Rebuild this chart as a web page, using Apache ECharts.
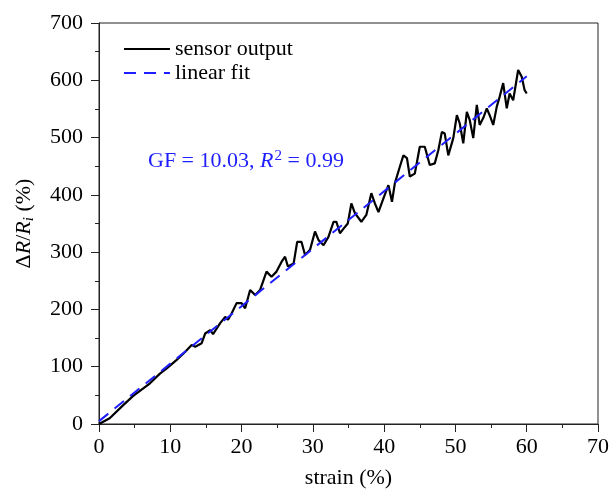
<!DOCTYPE html>
<html>
<head>
<meta charset="utf-8">
<script src="https://cdn.jsdelivr.net/npm/echarts@6/dist/echarts.min.js"></script>
<style>
  html, body { margin: 0; padding: 0; background: #fff; }
  #chart { width: 610px; height: 492px; }
</style>
</head>
<body>
<div id="chart"></div>
<script>
const strain = [0, 1.5, 3.4, 4.8, 7.15, 8.55, 9.5, 10.9, 12.1, 13.0, 13.5, 14.4, 14.9, 15.6, 16.0, 17.0, 17.7, 18.1, 18.6, 19.3,
  20.0, 20.5, 21.2, 21.9, 22.6, 23.5, 24.2, 24.9, 25.6, 26.1, 26.5, 27.3, 27.8, 28.4, 28.9, 29.6, 30.3, 30.8, 31.5, 32.2,
  32.9, 33.3, 33.8, 34.5, 34.9, 35.4, 35.9, 36.8, 37.5, 38.2, 38.7, 39.2, 39.9, 40.6, 41.1, 41.5, 42.2, 42.7, 43.2, 43.6,
  44.3, 45.0, 45.7, 46.4, 47.1, 47.6, 48.1, 48.5, 49.0, 49.7, 50.2, 50.6, 51.1, 51.6, 52.0, 52.5, 53.0, 53.4, 53.9, 54.4,
  54.8, 55.3, 55.8, 56.2, 56.7, 57.2, 57.6, 58.1, 58.8, 59.3, 59.7, 60.0];
const sensorOutput = [0, 10, 33, 49, 71, 88, 97, 112, 126, 138, 135, 141, 158, 164, 157, 176, 187, 182, 193, 211,
  211, 202, 234, 225, 234, 266, 257, 266, 283, 292, 275, 280, 318, 318, 295, 304, 336, 321, 312, 327,
  353, 353, 333, 344, 350, 385, 368, 353, 365, 403, 385, 370, 394, 417, 388, 420, 449, 469, 464, 432,
  437, 484, 484, 452, 455, 478, 510, 507, 469, 499, 539, 525, 490, 545, 531, 499, 557, 522, 534, 551,
  539, 522, 554, 571, 595, 551, 577, 565, 618, 606, 583, 577];

// linear fit end points
const fitStrain = [0, 60];
const fitValues = [5, 607];

const xTicks = [0, 70, 10];   // min, max, interval
const yTicks = [0, 700, 100];

const FONT = 'Liberation Serif';
const AXIS_COLOR = '#222';
const BLUE = '#1e1eff';

const chart = echarts.init(document.getElementById('chart'));

const sensorData = strain.map((s, i) => [s, sensorOutput[i]]);
const fitData = fitStrain.map((s, i) => [s, fitValues[i]]);

const option = {
  animation: false,
  backgroundColor: '#fff',
  grid: {
    left: 99, top: 23, width: 499, height: 401,
    outerBoundsMode: 'none',
    containLabel: false,
    show: true, borderColor: AXIS_COLOR, borderWidth: 1, backgroundColor: 'transparent'
  },
  legend: {
    orient: 'vertical',
    left: 123, top: 38,
    padding: 0,
    itemWidth: 46, itemHeight: 14, itemGap: 2,
    itemStyle: { opacity: 0 },
    textStyle: { fontFamily: FONT, fontSize: 22, color: '#000' },
    data: ['sensor output', 'linear fit']
  },
  xAxis: {
    type: 'value',
    min: xTicks[0], max: xTicks[1], interval: xTicks[2],
    name: 'strain (%)',
    nameLocation: 'middle',
    nameGap: 43,
    nameTextStyle: { fontFamily: FONT, fontSize: 22, color: '#000' },
    axisLine: { show: true, lineStyle: { color: AXIS_COLOR, width: 1 } },
    axisTick: { show: true, length: 8, lineStyle: { color: AXIS_COLOR } },
    minorTick: { show: true, splitNumber: 2, length: 4, lineStyle: { color: AXIS_COLOR } },
    axisLabel: { margin: 12, fontFamily: FONT, fontSize: 22, color: '#000' },
    splitLine: { show: false }
  },
  yAxis: {
    type: 'value',
    min: yTicks[0], max: yTicks[1], interval: yTicks[2],
    name: '{n|Δ}{i|R}{n|/}{i|R}{s|i}{n| (%)}',
    nameLocation: 'middle',
    nameGap: 62,
    nameTextStyle: {
      fontFamily: FONT, fontSize: 22, color: '#000',
      rich: {
        n: { fontFamily: FONT, fontSize: 22, color: '#000' },
        i: { fontFamily: FONT, fontSize: 22, fontStyle: 'italic', color: '#000' },
        s: { fontFamily: FONT, fontSize: 15, fontStyle: 'italic', color: '#000', padding: [10, 0, 0, 0] }
      }
    },
    axisLine: { show: true, lineStyle: { color: AXIS_COLOR, width: 1 } },
    axisTick: { show: true, length: 8, lineStyle: { color: AXIS_COLOR } },
    minorTick: { show: true, splitNumber: 2, length: 4, lineStyle: { color: AXIS_COLOR } },
    axisLabel: { margin: 16, fontFamily: FONT, fontSize: 22, color: '#000' },
    splitLine: { show: false }
  },
  graphic: [{
    type: 'text',
    left: 148, top: 149,
    style: {
      text: '{n|GF = 10.03, }{i|R}{p|2}{n| = 0.99}',
      rich: {
        n: { fontFamily: FONT, fontSize: 22, fill: BLUE },
        i: { fontFamily: FONT, fontSize: 22, fontStyle: 'italic', fill: BLUE },
        p: { fontFamily: FONT, fontSize: 15, fill: BLUE, padding: [0, 0, 10, 1] }
      }
    }
  }],
  series: [
    {
      name: 'sensor output',
      type: 'line',
      data: sensorData,
      showSymbol: false,
      symbol: 'none',
      lineStyle: { color: '#000', width: 2.2 },
      itemStyle: { color: '#000' },
      z: 2
    },
    {
      name: 'linear fit',
      type: 'line',
      data: fitData,
      showSymbol: false,
      symbol: 'none',
      lineStyle: { color: BLUE, width: 2, type: [12, 8] },
      itemStyle: { color: BLUE },
      z: 3
    }
  ]
};

chart.setOption(option);
</script>
</body>
</html>
